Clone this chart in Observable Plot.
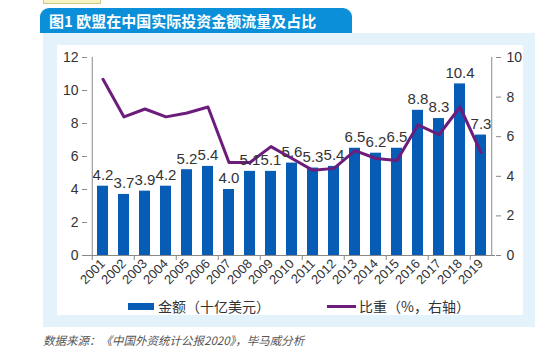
<!DOCTYPE html>
<html><head><meta charset="utf-8">
<script src="https://cdn.jsdelivr.net/npm/d3@7"></script>
<script src="https://cdn.jsdelivr.net/npm/@observablehq/plot@0.6"></script>
<style>
body{margin:0;background:#fff;}
#wrap{position:relative;width:554px;height:350px;overflow:hidden;font-family:"Noto Sans CJK SC","Noto Sans",sans-serif;}
.abs{position:absolute;}
</style></head><body>
<div id="wrap">
 <div class="abs" style="left:43px;top:-1px;width:56px;height:3px;background:#f6f2c4;border:1px solid #cfc88a;"></div>
 <div class="abs" style="left:40px;top:8px;width:312px;height:25px;background:#0a8fd8;border-radius:9px 9px 0 0;"></div>
 <div class="abs" style="left:49px;top:8px;color:#fff;font-weight:bold;font-size:15px;line-height:25px;white-space:nowrap;">图1 欧盟在中国实际投资金额流量及占比</div>
 <div class="abs" style="left:43px;top:33px;width:492px;height:294px;background:#e4f2fb;"></div>
 <div class="abs" style="left:57px;top:45px;width:466px;height:270px;background:#fff;"></div>
 <div id="chart" class="abs" style="left:0;top:0"></div>
 <div class="abs" style="left:128px;top:303px;width:26px;height:7px;background:#075db6;"></div>
 <div class="abs" style="left:158px;top:297px;font-size:14px;line-height:18px;color:#333;white-space:nowrap;">金额（十亿美元）</div>
 <div class="abs" style="left:327px;top:305px;width:29px;height:3px;background:#6c1d7c;"></div>
 <div class="abs" style="left:359px;top:297px;font-size:14px;line-height:18px;color:#333;white-space:nowrap;">比重（%，右轴）</div>
 <div class="abs" style="left:43px;top:332px;font-size:11.5px;line-height:16px;color:#555;font-style:italic;white-space:nowrap;">数据来源：《中国外资统计公报2020》，毕马威分析</div>
</div>
<script>
const years = ["2001","2002","2003","2004","2005","2006","2007","2008","2009","2010","2011","2012","2013","2014","2015","2016","2017","2018","2019"];
const amounts = [4.2,3.7,3.9,4.2,5.2,5.4,4.0,5.1,5.1,5.6,5.3,5.4,6.5,6.2,6.5,8.8,8.3,10.4,7.3];
const shares = [8.9,7.0,7.4,7.0,7.2,7.5,4.7,4.7,5.5,4.9,4.3,4.4,5.3,4.9,4.8,6.6,6.1,7.5,5.2];
const leftTicks = [0,2,4,6,8,10,12];
const rightTicks = [0,2,4,6,8,10];
const ratio = 12/10;
const data = years.map((y,i)=>({year:y, amount:amounts[i], share:shares[i]}));
const W=554,H=350,mL=87,mR=59,mT=57,mB=95;
const step=(W-mL-mR)/years.length;
const plot = Plot.plot({
  width:W,height:H,marginLeft:mL,marginRight:mR,marginTop:mT,marginBottom:mB,
  style:{background:"transparent",fontFamily:"'Liberation Sans',Arial,sans-serif",color:"#333"},
  x:{domain:years,paddingInner:0.5,paddingOuter:0.25,axis:null},
  y:{domain:[0,12],axis:null},
  marks:[
    Plot.barY(data,{x:"year",y:"amount",fill:"#075db6"}),
    Plot.line(data,{x:"year",y:d=>d.share*ratio,stroke:"#6c1d7c",strokeWidth:3}),
    Plot.text(data,{x:"year",y:"amount",text:d=>d.amount.toFixed(1),dy:-11,fontSize:15,fill:"#333"}),
    Plot.ruleY([0],{stroke:"#888"}),
    Plot.ruleX([years[0]],{y1:0,y2:12,dx:-step/2,stroke:"#888"}),
    Plot.ruleX([years[years.length-1]],{y1:0,y2:12,dx:step/2,stroke:"#888"}),
    Plot.axisY(leftTicks,{anchor:"left",tickSize:5,tickPadding:4,fontSize:14,stroke:"#888",fill:"#333",label:null}),
    Plot.axisY(rightTicks.map(v=>v*ratio),{anchor:"right",tickSize:5,tickPadding:6,fontSize:14,stroke:"#888",fill:"#333",label:null,tickFormat:v=>String(Math.round(v/ratio))}),
    Plot.axisX(years.filter((d,i)=>i%2===0),{tickSize:5,tickFormat:()=>"",dx:-step/2,stroke:"#888",label:null}),
    Plot.axisX(years,{tickSize:0,tickRotate:-45,fontSize:13,tickPadding:6,fill:"#333",label:null})
  ]
});
document.getElementById("chart").appendChild(plot);
</script>
</body></html>
